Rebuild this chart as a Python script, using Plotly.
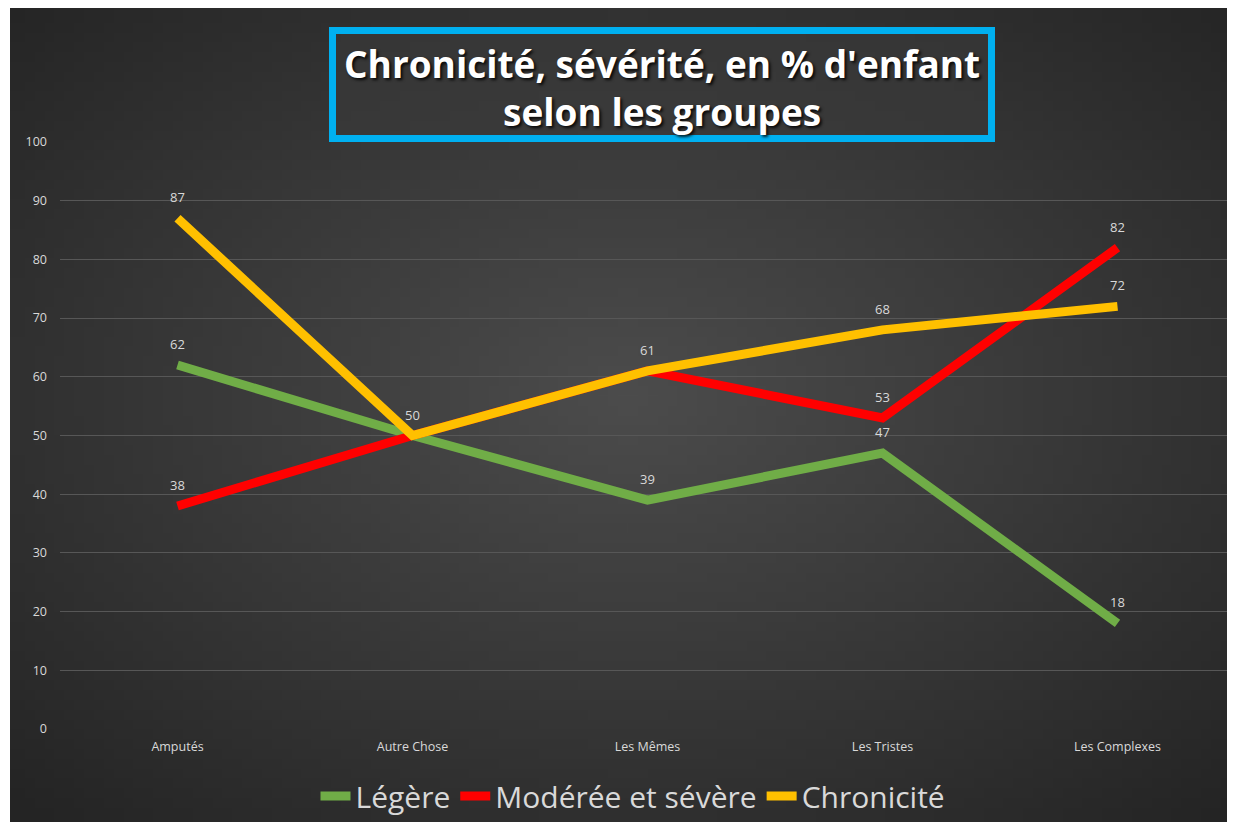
import base64, struct, zlib, math
import plotly.graph_objects as go

categories = ["Amputés", "Autre Chose", "Les Mêmes", "Les Tristes", "Les Complexes"]
legere = [62, 50, 39, 47, 18]
moderee = [38, 50, 61, 53, 82]
chronicite = [87, 50, 61, 68, 72]
series_names = ["Légère", "Modérée et sévère", "Chronicité"]
series_colors = ["#70AD47", "#FF0000", "#FFC000"]
title_text = "Chronicité, sévérité, en % d'enfant<br>selon les groupes"

# page body has an 8px default margin: the figure is sized to fit the window exactly
OFF = 8
W, H = 1235 - 2 * OFF, 830 - 2 * OFF
ML, MT = 60 - OFF, 142 - OFF
MB = H - (729 - OFF)
MR = 0
PW, PH = W - ML - MR, H - MT - MB
CAT_W = 235.0


def px(rx):
    return (rx - OFF - ML) / PW


def py(ry):
    return (H - MB - (ry - OFF)) / PH


def gradient_png(w, h):
    rows = []
    c_in, c_out = 76.0, 36.0
    cx, cy = w * 0.5, h * 0.47
    for j in range(h):
        row = bytearray([0])
        for i in range(w):
            dx = (i - cx) / (w / 2)
            dy = (j - cy) / (h / 2)
            t = min(1.0, math.sqrt(dx * dx + dy * dy) / 1.42)
            v = int(round(c_in + (c_out - c_in) * t))
            row += bytes([v, v, v])
        rows.append(bytes(row))
    raw = b"".join(rows)

    def chunk(tag, data):
        c = struct.pack(">I", len(data)) + tag + data
        return c + struct.pack(">I", zlib.crc32(tag + data) & 0xFFFFFFFF)

    png = b"\x89PNG\r\n\x1a\n" + chunk(b"IHDR", struct.pack(">IIBBBBB", w, h, 8, 2, 0, 0, 0))
    png += chunk(b"IDAT", zlib.compress(raw, 9)) + chunk(b"IEND", b"")
    return "data:image/png;base64," + base64.b64encode(png).decode()


fig = go.Figure()
for name, vals, col in zip(series_names, [legere, moderee, chronicite], series_colors):
    fig.add_trace(go.Scatter(x=list(range(len(categories))), y=vals, mode="lines", name=name,
                             line=dict(color=col, width=9), hoverinfo="skip"))

# data labels (coinciding labels drawn once)
seen = set()
for vals in [legere, moderee, chronicite]:
    for i, v in enumerate(vals):
        if (i, v) in seen:
            continue
        seen.add((i, v))
        fig.add_annotation(x=i, y=v, text=str(v), showarrow=False, yshift=21,
                           font=dict(family="Open Sans", size=13, color="#D9D9D9"))

# background image (radial gradient)
fig.add_layout_image(dict(source=gradient_png(124, 83), xref="paper", yref="paper",
                          x=px(10), y=py(OFF), sizex=(1235 - 10) / PW, sizey=H / PH,
                          xanchor="left", yanchor="top", sizing="stretch", layer="below"))

# title box
fig.add_shape(type="rect", xref="paper", yref="paper", x0=px(332.5), x1=px(991.5),
              y0=py(138.5), y1=py(30.5),
              line=dict(color="#00B0F0", width=7), fillcolor="rgba(58,58,58,0.6)", layer="above")

fig.add_annotation(xref="paper", yref="paper", x=px(662), y=py(87), text=title_text, showarrow=False,
                   xanchor="center", yanchor="middle", align="center",
                   font=dict(family="Open Sans", size=37, color="#FFFFFF", weight="bold",
                             shadow="2px 2px 3px rgba(0,0,0,0.85)"))

fig.update_layout(
    width=W, height=H,
    margin=dict(l=ML, r=MR, t=MT, b=MB, autoexpand=False),
    paper_bgcolor="#FFFFFF", plot_bgcolor="rgba(0,0,0,0)",
    showlegend=True,
    legend=dict(orientation="h", x=px(633), xanchor="center", y=py(796), yanchor="middle",
                font=dict(family="Open Sans", size=30, color="#D9D9D9"), bgcolor="rgba(0,0,0,0)",
                itemwidth=30, tracegroupgap=0),
    xaxis=dict(range=[-0.5, -0.5 + PW / CAT_W], tickmode="array",
               tickvals=list(range(len(categories))),
               ticktext=categories, showgrid=False, zeroline=False, showline=False,
               tickfont=dict(family="Open Sans", size=12.5, color="#D9D9D9"), ticklabelstandoff=8,
               fixedrange=True),
    yaxis=dict(range=[0, 100], tickmode="array", tickvals=list(range(0, 101, 10)),
               showgrid=True, gridcolor="#575757", gridwidth=1, zeroline=False, showline=False,
               tickfont=dict(family="Open Sans", size=12.5, color="#D9D9D9"), ticklabelstandoff=12,
               fixedrange=True),
)

fig.write_html("out.html")
